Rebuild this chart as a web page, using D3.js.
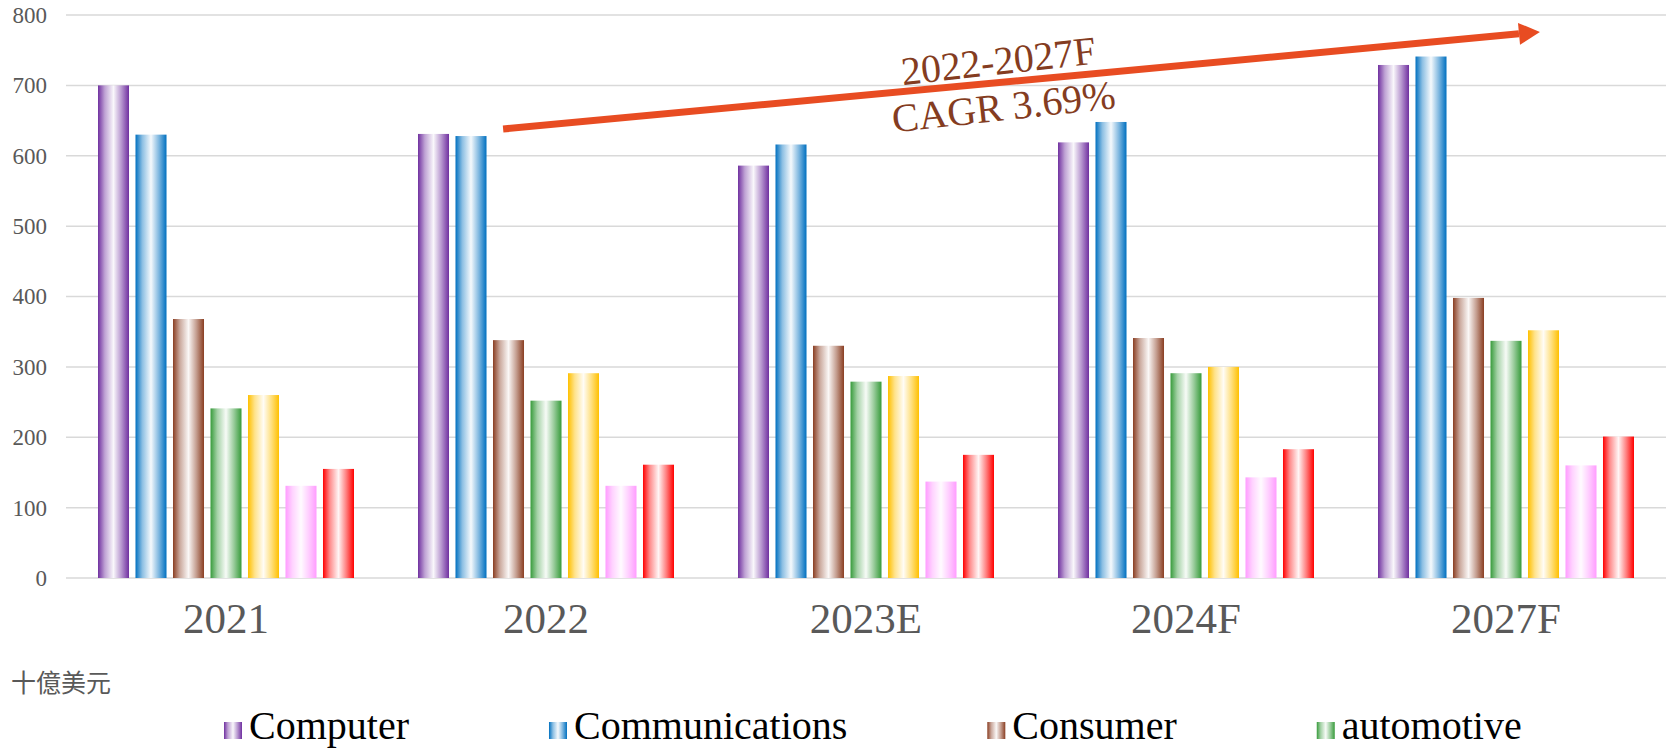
<!DOCTYPE html>
<html>
<head>
<meta charset="utf-8">
<script src="https://cdn.jsdelivr.net/npm/d3@7"></script>
<style>
  body { margin: 0; background: #fff; }
  text { font-family: "Liberation Serif", "DejaVu Serif", serif; }
</style>
</head>
<body>
<svg id="chart" width="1668" height="748"></svg>
<script>
// data
var years = ["2021", "2022", "2023E", "2024F", "2027F"];
var seriesNames = ["Computer", "Communications", "Consumer", "automotive", "Industrial", "Medical", "Other"];
var seriesColors = ["#7030a0", "#0070c0", "#8a3e22", "#379b3b", "#ffc000", "#ff9cff", "#ff0000"];
var computer = [700, 631, 586, 619, 729];
var communications = [630, 628, 616, 648, 741];
var consumer = [368, 338, 330, 341, 398];
var automotive = [241, 252, 279, 291, 337];
var industrial = [260, 291, 287, 300, 352];
var medical = [131, 131, 137, 143, 160];
var other = [155, 161, 175, 183, 201];
var yTicks = [0, 100, 200, 300, 400, 500, 600, 700, 800];
var unitLabel = "十億美元";
var cagrLines = ["2022-2027F", "CAGR 3.69%"];
// legend only shows the first row in the picture
var legendCount = 4;

var allSeries = [computer, communications, consumer, automotive, industrial, medical, other];

var svg = d3.select("#chart");
var margin = { top: 15, left: 66, right: 2, bottom: 170 };
var width = 1668 - margin.left - margin.right;
var height = 748 - margin.top - margin.bottom;

var x0 = d3.scaleBand().domain(years).range([margin.left, margin.left + width])
    .paddingInner(0.2).paddingOuter(0.1);
var x1 = d3.scaleBand().domain(d3.range(seriesNames.length)).range([0, x0.bandwidth()])
    .paddingInner(0.173).paddingOuter(0);
var y = d3.scaleLinear().domain([0, 800]).range([margin.top + height, margin.top]);

// gradients, dark edges with a light middle
var defs = svg.append("defs");
seriesColors.forEach(function (c, i) {
    var g = defs.append("linearGradient").attr("id", "grad" + i)
        .attr("x1", "0%").attr("x2", "100%").attr("y1", "0%").attr("y2", "0%");
    var light = d3.interpolateRgb(c, "#ffffff");
    g.append("stop").attr("offset", "0%").attr("stop-color", c);
    g.append("stop").attr("offset", "22%").attr("stop-color", light(0.55));
    g.append("stop").attr("offset", "50%").attr("stop-color", light(0.96));
    g.append("stop").attr("offset", "75%").attr("stop-color", light(0.5));
    g.append("stop").attr("offset", "100%").attr("stop-color", c);
});

// grid lines
svg.append("g").selectAll("line").data(yTicks).enter().append("line")
    .attr("x1", margin.left).attr("x2", margin.left + width)
    .attr("y1", function (d) { return y(d); }).attr("y2", function (d) { return y(d); })
    .attr("stroke", "#d9d9d9").attr("stroke-width", 1.5);

// y axis labels
var yAxis = d3.axisLeft(y).tickValues(yTicks).tickSize(0).tickPadding(19);
svg.append("g").attr("transform", "translate(" + margin.left + ",0)").call(yAxis)
    .call(function (g) { g.select(".domain").remove(); })
    .selectAll("text").attr("font-size", 23).attr("fill", "#595959")
    .attr("font-family", "Liberation Serif");

// bars
var groups = svg.append("g").selectAll("g").data(years).enter().append("g")
    .attr("transform", function (d) { return "translate(" + x0(d) + ",0)"; });
groups.selectAll("rect")
    .data(function (d, yi) { return allSeries.map(function (s, si) { return { si: si, v: s[yi] }; }); })
    .enter().append("rect")
    .attr("x", function (d) { return x1(d.si); })
    .attr("width", x1.bandwidth())
    .attr("y", function (d) { return y(d.v); })
    .attr("height", function (d) { return y(0) - y(d.v); })
    .attr("fill", function (d) { return "url(#grad" + d.si + ")"; });

// x axis labels
var xAxis = d3.axisBottom(x0).tickSize(0).tickPadding(24);
svg.append("g").attr("transform", "translate(0," + y(0) + ")").call(xAxis)
    .call(function (g) { g.select(".domain").remove(); })
    .selectAll("text").attr("font-size", 43).attr("fill", "#595959")
    .attr("font-family", "Liberation Serif");

// unit label
svg.append("text").attr("x", 11).attr("y", 692).text(unitLabel)
    .attr("font-size", 25).attr("fill", "#595959")
    .style("font-family", "'Noto Sans CJK TC', 'Noto Sans CJK SC', sans-serif");

// CAGR arrow
var arrowStart = [x0("2022") + 0.266 * x0.step(), y(638)];
var arrowEnd = [x0("2027F") + 0.506 * x0.step(), y(776)];
var ang = Math.atan2(arrowEnd[1] - arrowStart[1], arrowEnd[0] - arrowStart[0]);
var headLen = 21, headHalf = 11;
var shaftEnd = [arrowEnd[0] - headLen * Math.cos(ang), arrowEnd[1] - headLen * Math.sin(ang)];
svg.append("line")
    .attr("x1", arrowStart[0]).attr("y1", arrowStart[1])
    .attr("x2", shaftEnd[0]).attr("y2", shaftEnd[1])
    .attr("stroke", "#e84c22").attr("stroke-width", 7);
svg.append("polygon")
    .attr("points", [
        arrowEnd,
        [shaftEnd[0] + headHalf * Math.sin(ang), shaftEnd[1] - headHalf * Math.cos(ang)],
        [shaftEnd[0] - headHalf * Math.sin(ang), shaftEnd[1] + headHalf * Math.cos(ang)]
    ].map(function (p) { return p.join(","); }).join(" "))
    .attr("fill", "#e84c22");

var t = 0.48;
var mid = [arrowStart[0] + t * (arrowEnd[0] - arrowStart[0]), arrowStart[1] + t * (arrowEnd[1] - arrowStart[1])];
var deg = ang * 180 / Math.PI - 1;
svg.append("g").attr("transform", "translate(" + mid[0] + "," + mid[1] + ") rotate(" + deg + ")")
    .selectAll("text").data(cagrLines).enter().append("text")
    .attr("text-anchor", "middle")
    .attr("y", function (d, i) { return i === 0 ? -8 : 38; })
    .attr("font-size", 40).attr("fill", "#843c21")
    .text(function (d) { return d; });

// legend
var legend = svg.append("g");
var lx = 224;
seriesNames.slice(0, legendCount).forEach(function (name, i) {
    var item = legend.append("g").attr("transform", "translate(" + lx + ",0)");
    item.append("rect").attr("x", 0).attr("y", 722).attr("width", 18).attr("height", 17)
        .attr("fill", "url(#grad" + i + ")");
    var txt = item.append("text").attr("x", 25).attr("y", 739)
        .attr("font-size", 40).attr("fill", "#000").text(name);
    lx += 25 + txt.node().getComputedTextLength() + 140;
});
</script>
</body>
</html>
